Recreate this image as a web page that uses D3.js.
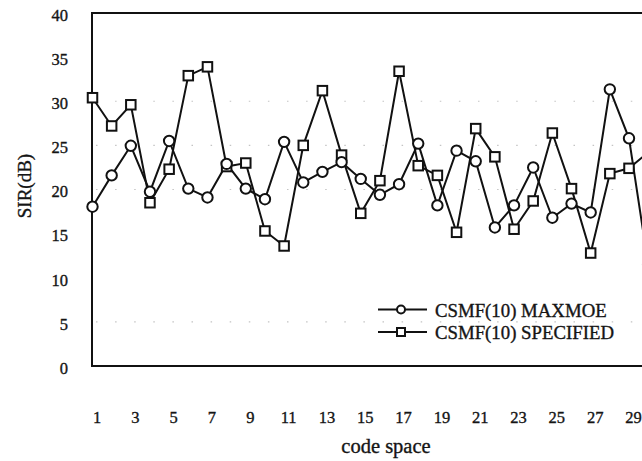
<!DOCTYPE html>
<html>
<head>
<meta charset="utf-8">
<script src="https://cdn.jsdelivr.net/npm/d3@7/dist/d3.min.js"></script>
<style>
  html, body { margin: 0; padding: 0; background: #fff; }
  svg { display: block; }
  text { font-family: "Liberation Serif", "Times New Roman", serif; fill: #151515; stroke: #151515; stroke-width: 0.35px; }
</style>
</head>
<body>
<div id="chart"></div>
<script>
// Code space index (the last point runs past the visible frame)
const codes = d3.range(1, 31);

// SIR (dB) for the two CSMF(10) variants
const maxmoe = [18.05, 21.6, 24.95, 19.75, 25.5, 20.1, 19.1, 22.9, 20.1, 18.9,
                25.4, 20.8, 22.0, 23.1, 21.2, 19.4, 20.6, 25.2, 18.2, 24.4,
                23.2, 15.7, 18.2, 22.5, 16.8, 18.4, 17.4, 31.35, 25.8, 11.5];
const specified = [30.4, 27.2, 29.6, 18.5, 22.3, 32.9, 33.9, 22.6, 23.0, 15.3,
                   13.6, 25.0, 31.2, 23.9, 17.3, 21.0, 33.4, 22.7, 21.6, 15.15,
                   26.9, 23.7, 15.5, 18.7, 26.4, 20.1, 12.8, 21.8, 22.4, 24.2];

const yTicks = [0, 5, 10, 15, 20, 25, 30, 35, 40];
const xTicks = [1, 3, 5, 7, 9, 11, 13, 15, 17, 19, 21, 23, 25, 27, 29];
const gridLevels = [5, 20, 25, 30];

const seriesNames = ["CSMF(10) MAXMOE", "CSMF(10) SPECIFIED"];

const W = 642, H = 461;
const mLeft = 92, mTop = 13, mBottom = 366;

const svg = d3.select("#chart").append("svg")
  .attr("width", W).attr("height", H);

const x = d3.scaleLinear().domain([1, 29]).range([92.5, 629]);
const y = d3.scaleLinear().domain([0, 40]).range([mBottom, mTop]);

// faint dotted grid
svg.append("g")
  .selectAll("line")
  .data(gridLevels)
  .join("line")
  .attr("x1", mLeft + 4).attr("x2", W)
  .attr("y1", d => y(d)).attr("y2", d => y(d))
  .attr("stroke", "#c4c4c4")
  .attr("stroke-width", 1.2)
  .attr("stroke-dasharray", "1.5,17.6");

// frame: left axis, top border, bottom axis
const frame = svg.append("g").attr("stroke", "#111").attr("stroke-width", 2).attr("fill", "none");
frame.append("line").attr("x1", mLeft).attr("x2", mLeft).attr("y1", mTop).attr("y2", mBottom);
frame.append("line").attr("x1", mLeft - 1).attr("x2", W).attr("y1", mTop).attr("y2", mTop);
frame.append("line").attr("x1", mLeft - 1).attr("x2", W).attr("y1", mBottom).attr("y2", mBottom);

// y axis labels
const yAxis = d3.axisLeft(y).tickValues(yTicks).tickSize(0).tickPadding(0).tickFormat(d3.format("d"));
const gy = svg.append("g").attr("transform", `translate(68,2)`).call(yAxis);
gy.select(".domain").remove();
gy.selectAll("text").style("font-size", "16.5px").style("font-family", "\"Liberation Serif\", serif")
  .attr("fill", "#151515");

// x axis labels
const xAxis = d3.axisBottom(x).tickValues(xTicks).tickSize(0).tickPadding(0).tickFormat(d3.format("d"));
const gx = svg.append("g").attr("transform", `translate(4,411)`).call(xAxis);
gx.select(".domain").remove();
gx.selectAll("text").style("font-size", "16.5px").style("font-family", "\"Liberation Serif\", serif")
  .attr("fill", "#151515");

// axis titles
svg.append("text")
  .attr("transform", "translate(31,186) rotate(-90)")
  .attr("text-anchor", "middle")
  .style("font-size", "19px")
  .text("SIR(dB)");

svg.append("text")
  .attr("x", 386).attr("y", 453)
  .attr("text-anchor", "middle")
  .style("font-size", "20.5px")
  .text("code space");

// series
const line = d3.line().x(d => x(d[0])).y(d => y(d[1]));
const circData = codes.map((c, i) => [c, maxmoe[i]]);
const sqData = codes.map((c, i) => [c, specified[i]]);

const plot = svg.append("g");

plot.append("path").datum(sqData).attr("d", line)
  .attr("fill", "none").attr("stroke", "#111").attr("stroke-width", 2);
plot.append("path").datum(circData).attr("d", line)
  .attr("fill", "none").attr("stroke", "#111").attr("stroke-width", 2);

const sq = 9.5;
plot.append("g").selectAll("rect").data(sqData).join("rect")
  .attr("x", d => x(d[0]) - sq / 2).attr("y", d => y(d[1]) - sq / 2)
  .attr("width", sq).attr("height", sq)
  .attr("fill", "#fff").attr("stroke", "#111").attr("stroke-width", 2);

plot.append("g").selectAll("circle").data(circData).join("circle")
  .attr("cx", d => x(d[0])).attr("cy", d => y(d[1]))
  .attr("r", 5.2)
  .attr("fill", "#fff").attr("stroke", "#111").attr("stroke-width", 2);

// legend
const legend = svg.append("g");
const rows = [{ name: seriesNames[0], shape: "circle", cy: 309.5 },
              { name: seriesNames[1], shape: "square", cy: 332 }];
rows.forEach(r => {
  legend.append("line").attr("x1", 378).attr("x2", 427).attr("y1", r.cy).attr("y2", r.cy)
    .attr("stroke", "#111").attr("stroke-width", 2);
  if (r.shape === "circle") {
    legend.append("circle").attr("cx", 401).attr("cy", r.cy).attr("r", 4)
      .attr("fill", "#fff").attr("stroke", "#111").attr("stroke-width", 2);
  } else {
    legend.append("rect").attr("x", 397).attr("y", r.cy - 4).attr("width", 8).attr("height", 8)
      .attr("fill", "#fff").attr("stroke", "#111").attr("stroke-width", 2);
  }
  legend.append("text").attr("x", 435).attr("y", r.cy + 7)
    .style("font-size", "18.8px").text(r.name);
});
</script>
</body>
</html>
